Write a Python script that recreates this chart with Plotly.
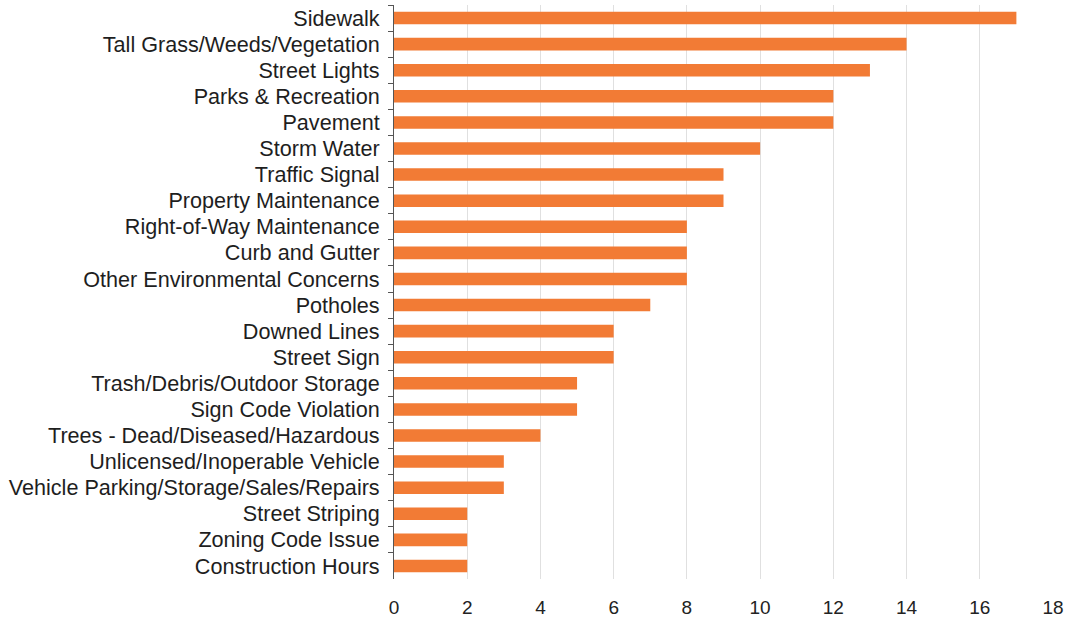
import plotly.graph_objects as go

categories = [
    "Sidewalk",
    "Tall Grass/Weeds/Vegetation",
    "Street Lights",
    "Parks & Recreation",
    "Pavement",
    "Storm Water",
    "Traffic Signal",
    "Property Maintenance",
    "Right-of-Way Maintenance",
    "Curb and Gutter",
    "Other Environmental Concerns",
    "Potholes",
    "Downed Lines",
    "Street Sign",
    "Trash/Debris/Outdoor Storage",
    "Sign Code Violation",
    "Trees - Dead/Diseased/Hazardous",
    "Unlicensed/Inoperable Vehicle",
    "Vehicle Parking/Storage/Sales/Repairs",
    "Street Striping",
    "Zoning Code Issue",
    "Construction Hours",
]
counts = [17, 14, 13, 12, 12, 10, 9, 9, 8, 8, 8, 7, 6, 6, 5, 5, 4, 3, 3, 2, 2, 2]
x_ticks = [0, 2, 4, 6, 8, 10, 12, 14, 16, 18]

fig = go.Figure(
    go.Bar(
        x=counts,
        y=categories,
        orientation="h",
        width=0.48,
        marker=dict(color="#F27B35", line=dict(width=0)),
    )
)

fig.update_layout(
    width=1070,
    height=623,
    margin=dict(l=394, r=17, t=5, b=44),
    paper_bgcolor="white",
    plot_bgcolor="white",
    showlegend=False,
    font=dict(family="Liberation Sans, Arial, sans-serif", size=21.6, color="#1e1e1e"),
)

fig.update_xaxes(
    range=[0, 18],
    tickvals=x_ticks,
    showgrid=True,
    gridcolor="#e0e0e0",
    gridwidth=1,
    zeroline=False,
    showline=False,
    ticks="outside",
    ticklen=11,
    tickcolor="rgba(0,0,0,0)",
    tickfont=dict(size=19, color="#222"),
)

fig.update_yaxes(
    categoryorder="array",
    categoryarray=categories,
    autorange="reversed",
    showgrid=False,
    showline=True,
    linecolor="#555",
    linewidth=1,
    ticks="outside",
    tickson="boundaries",
    ticklen=5,
    tickcolor="#555",
    ticklabelstandoff=9,
    tickfont=dict(size=21.6, color="#1e1e1e"),
)

fig.write_html("out.html")
